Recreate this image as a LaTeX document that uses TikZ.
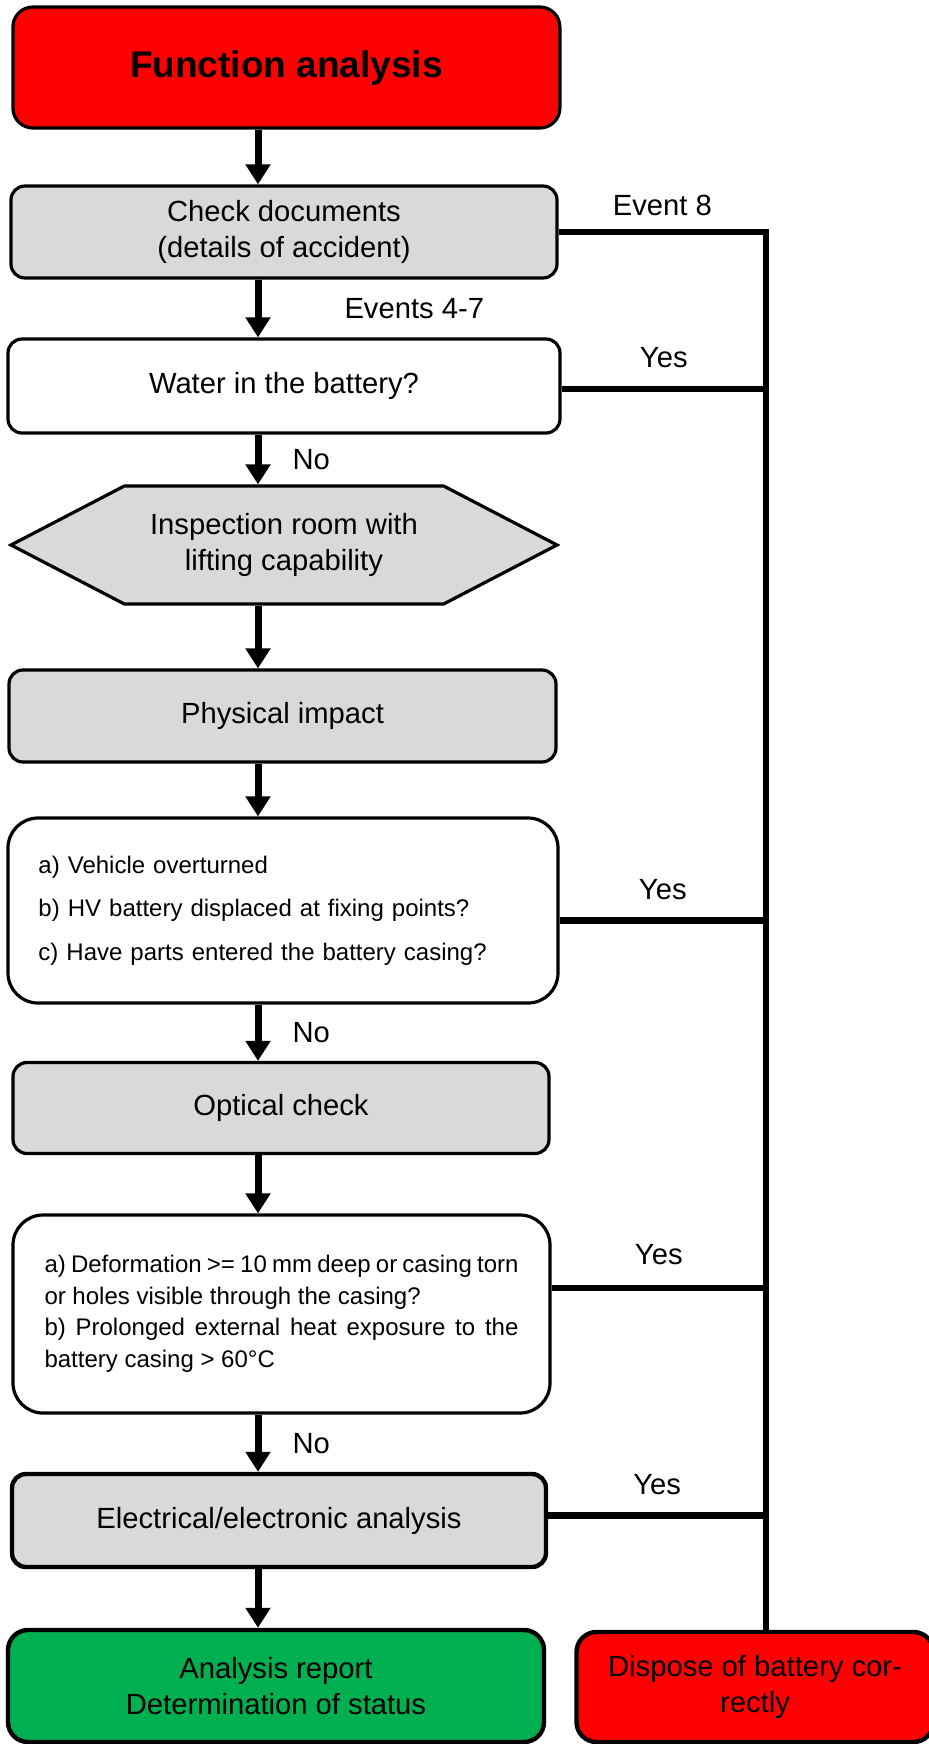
\documentclass[tikz,border=0pt]{standalone}
\usepackage{fontspec}
\setmainfont{Liberation Sans}
\usepackage{tikz}
\usetikzlibrary{arrows.meta,calc,positioning,shapes.symbols}
\definecolor{alarm}{HTML}{FF0000}
\definecolor{panel}{HTML}{D9D9D9}
\definecolor{okay}{HTML}{00B050}
\newcommand{\midtext}{\fontsize{14.6}{18}\selectfont}

\tikzset{
  box/.style={draw,line width=1.6pt,rounded corners=7pt,align=center,inner sep=0pt,font=\midtext},
  hexa/.style={draw,line width=1.6pt,fill=panel,shape=signal,signal to=west and east,signal pointer angle=55,align=center,inner sep=0pt,font=\midtext},
  query/.style={draw,line width=1.6pt,rounded corners=15pt,fill=white,inner sep=0pt},
  flow/.style={line width=3.5pt,-{Triangle[length=10pt,width=12pt]}},
  feed/.style={line width=3.3pt,line join=miter},
  tag/.style={inner sep=0pt,font=\midtext}
}

\begin{document}
\begin{tikzpicture}[x=0.5pt,y=-0.5pt]
\useasboundingbox (0,0) rectangle (929,1744);
\coordinate (spine) at (258,0);
\coordinate (rail) at (766,0);

% main column
\node[box,fill=alarm,rounded corners=10pt,minimum width=273.5pt,minimum height=60.5pt,font=\bfseries\fontsize{18.5}{22}\selectfont] (func) at (286.4,67.5) {Function analysis};
\node[box,fill=panel,minimum width=273pt,minimum height=46pt] (docs) at (284,232) {Check documents\\(details of accident)};
\node[box,fill=white,minimum width=276pt,minimum height=47pt] (water) at (284,386) {Water in the battery?};
\node[hexa,minimum width=273pt,minimum height=59pt] (room) at (284,545) {Inspection room with\\lifting capability};
\node[box,fill=panel,minimum width=273.5pt,minimum height=46pt] (impact) at (282.5,716) {Physical impact};
\node[query,minimum width=275pt,minimum height=92.5pt,text width=244.5pt,align=left,font=\fontsize{12}{21.7}\selectfont] (overturn) at (283,910.5)
  {a) Vehicle overturned\\b) HV battery displaced at fixing points?\\c) Have parts entered the battery casing?};
\node[box,fill=panel,minimum width=268pt,minimum height=45.5pt] (optic) at (281,1108) {Optical check};
\node[query,minimum width=268.5pt,minimum height=99pt,text width=237pt,align=justify,font=\fontsize{12}{15.75}\selectfont] (deform) at (281.5,1314)
  {a) Deformation >= 10 mm deep or casing torn\linebreak or holes visible through the casing?\\b) Prolonged external heat exposure to the\linebreak battery casing > 60°C};
\node[box,fill=panel,line width=2.2pt,minimum width=267pt,minimum height=46.5pt] (elec) at (279,1520.5) {Electrical/electronic analysis};
\node[box,fill=okay,line width=2.2pt,rounded corners=10pt,minimum width=268pt,minimum height=56pt] (report) at (276,1686) {Analysis report\\Determination of status};
\node[box,fill=alarm,line width=2.2pt,rounded corners=10pt,minimum width=178.5pt,minimum height=55pt] (dispose) at (755,1687) {Dispose of battery cor-\\rectly};

% arrows down the column
\draw[flow] (func.south -| spine) -- (docs.north -| spine);
\draw[flow] (docs.south -| spine) -- node[tag,right=41.5pt] (ev47) {Events 4-7} (water.north -| spine);
\draw[flow] (water.south -| spine) -- node[tag,right=15.5pt] (no1) {No} (room.north -| spine);
\draw[flow] (room.south -| spine) -- (impact.north -| spine);
\draw[flow] (impact.south -| spine) -- (overturn.north -| spine);
\draw[flow] (overturn.south -| spine) -- node[tag,right=15.5pt] (no2) {No} (optic.north -| spine);
\draw[flow] (optic.south -| spine) -- (deform.north -| spine);
\draw[flow] (deform.south -| spine) -- node[tag,right=15.5pt] (no3) {No} (elec.north -| spine);
\draw[flow] (elec.south -| spine) -- (report.north -| spine);

% lines to disposal
\draw[feed] (docs.east) -- node[tag,above=6.5pt] (ev8) {Event 8} (docs.east -| rail) -- (rail |- dispose.north);
\draw[feed] ($(water.east)+(0,3)$) coordinate (wy) -- node[tag,above=9pt] (yes1) {Yes} (wy -| rail);
\draw[feed] ($(overturn.east)+(0,10)$) coordinate (oy) -- node[tag,above=8.5pt] (yes2) {Yes} (oy -| rail);
\draw[feed] ($(deform.east)+(0,-26)$) coordinate (dy) -- node[tag,above=10pt] (yes3) {Yes} (dy -| rail);
\draw[feed] ($(elec.east)+(0,-5)$) coordinate (ey) -- node[tag,above=8.5pt] (yes4) {Yes} (ey -| rail);
\end{tikzpicture}
\end{document}
